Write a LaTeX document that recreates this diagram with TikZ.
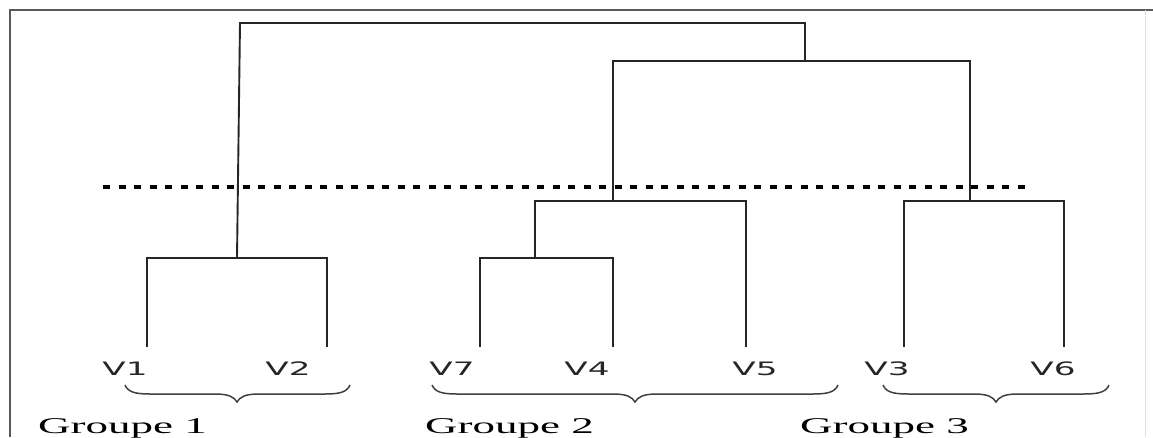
\documentclass[tikz,border=0pt]{standalone}
\usepackage{fontspec}
\setmainfont{Liberation Serif}
\newfontfamily\labfont{DejaVu Sans}
\usepackage{graphicx}
\tikzset{
  link/.style={draw=black!85, line width=1.9pt},
  cutline/.style={draw=black, line width=3.5pt, dash pattern=on 7pt off 8.5pt},
  bracestyle/.style={draw=black!75, line width=1.5pt},
  leaf/.style={anchor=base, inner sep=0pt, text=black!85, font=\labfont\fontsize{18.5}{20}\selectfont},
  grouplabel/.style={anchor=base west, inner sep=0pt, font=\fontsize{22.5}{24}\selectfont},
  frameline/.style={draw=black!65, line width=2pt}
}
\newcommand\mybrace[3]{%
  \draw[bracestyle] (#1,385) .. controls (#1+3,392) and (#1+10,394) .. (#1+25,394)
    -- (#2-22,394) .. controls (#2-8,394) and (#2-3,397) .. (#2,402)
    .. controls (#2+3,397) and (#2+8,394) .. (#2+22,394)
    -- (#3-25,394) .. controls (#3-10,394) and (#3-3,392) .. (#3,385);}
\begin{document}
\begin{tikzpicture}[x=1pt,y=-1pt]
\useasboundingbox (0,0) rectangle (1153,437);
% frame
\coordinate (fBL) at (10,437);
\coordinate (fTL) at (10,10);
\coordinate (fTR) at (1153,10);
\draw[frameline] (fBL) -- (fTL) -- (fTR);
\coordinate (fRT) at (1145,10);
\coordinate (fRB) at (1145,437);
\draw[draw=black!12, line width=1pt] (fRT) -- (fRB);
% leaf line ends
\coordinate (b1) at (147,347);
\coordinate (b2) at (327,347);
\coordinate (b7) at (480,347);
\coordinate (b4) at (613,347);
\coordinate (b5) at (746,347);
\coordinate (b3) at (904,347);
\coordinate (b6) at (1064,347);
% merge points
\coordinate (m12) at (237,258);
\coordinate (m74) at (535,258);
\coordinate (m745) at (613,201);
\coordinate (m36) at (970,201);
\coordinate (mB) at (805,61);
\coordinate (rootL) at (240,23);
\coordinate (rootR) at (805,23);
% dendrogram
\draw[link] (b1) |- (m12) -| (b2);
\draw[link] (b7) |- (m74) -| (b4);
\draw[link] (m74) |- (m745) -| (b5);
\draw[link] (b3) |- (m36) -| (b6);
\draw[link] (m745) |- (mB) -| (m36);
\draw[link] (m12) -- (rootL) -- (rootR) -- (mB);
% cut line
\coordinate (cutL) at (103,187);
\coordinate (cutR) at (1026,187);
\draw[cutline] (cutL) -- (cutR);
% leaf labels
\node[leaf] (v1) at (125,375) {\scalebox{1.85}[1]{V1}};
\node[leaf] (v2) at (288,375) {\scalebox{1.85}[1]{V2}};
\node[leaf] (v7) at (452,375) {\scalebox{1.85}[1]{V7}};
\node[leaf] (v4) at (587,375) {\scalebox{1.85}[1]{V4}};
\node[leaf] (v5) at (755,375) {\scalebox{1.85}[1]{V5}};
\node[leaf] (v3) at (887,375) {\scalebox{1.85}[1]{V3}};
\node[leaf] (v6) at (1053,375) {\scalebox{1.85}[1]{V6}};
% braces
\mybrace{125}{237}{350}
\mybrace{432}{635}{838}
\mybrace{883}{996}{1109}
% group labels
\node[grouplabel] (g1) at (38,433) {\scalebox{2}[1]{Groupe 1}};
\node[grouplabel] (g2) at (425,433) {\scalebox{2}[1]{Groupe 2}};
\node[grouplabel] (g3) at (800,433) {\scalebox{2}[1]{Groupe 3}};
\end{tikzpicture}
\end{document}
